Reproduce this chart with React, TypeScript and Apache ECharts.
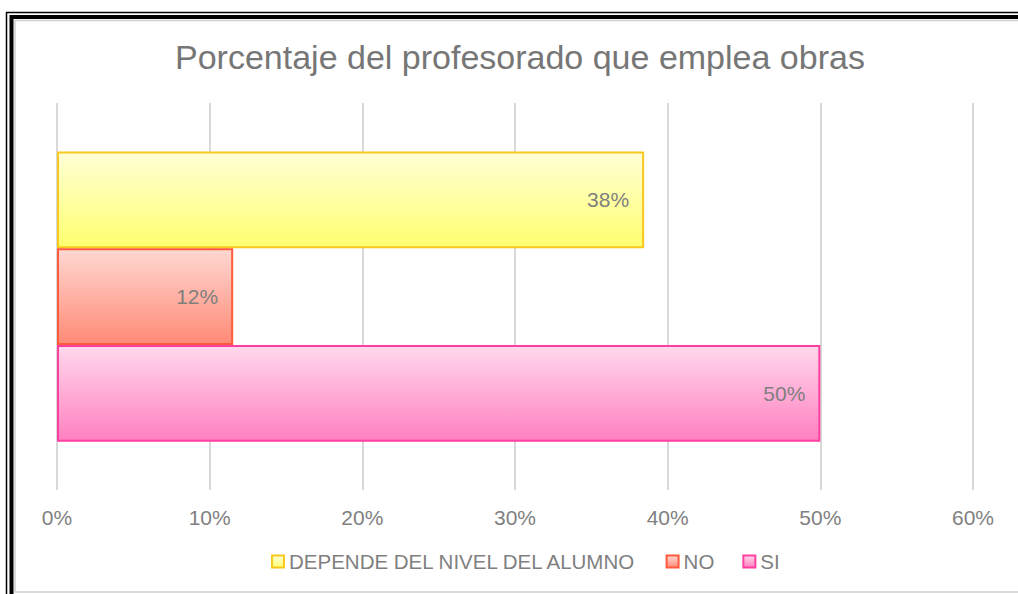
import React, { useEffect, useRef } from "react";
import * as echarts from "echarts";

const titleText = "Porcentaje del profesorado que emplea obras";
const categories = ["Respuesta"];
const seriesNames = ["DEPENDE DEL NIVEL DEL ALUMNO", "NO", "SI"];
const valuesDepende = [38.46];
const valuesNo = [11.54];
const valuesSi = [50];
const xTicks = [0, 10, 20, 30, 40, 50, 60];

const grad = (top: string, bottom: string) =>
  new echarts.graphic.LinearGradient(0, 0, 0, 1, [
    { offset: 0, color: top },
    { offset: 1, color: bottom },
  ]);

export default function App() {
  const ref = useRef<HTMLDivElement>(null);
  useEffect(() => {
    if (!ref.current) return;
    const chart = echarts.init(ref.current, undefined, { renderer: "svg" });
    const font = "'Liberation Sans', Arial, Helvetica, sans-serif";
    const styles = [
      { fill: grad("#ffffd6", "#ffff70"), border: "#f7c81e" },
      { fill: grad("#ffd8d2", "#ff8a76"), border: "#ff5a3c" },
      { fill: grad("#ffd8ec", "#ff80c0"), border: "#ff3fa0" },
    ];
    const data = [valuesDepende, valuesNo, valuesSi];
    chart.setOption({
      animation: false,
      backgroundColor: "#ffffff",
      textStyle: { fontFamily: font },
      title: {
        text: titleText,
        left: 170,
        top: 35,
        textStyle: { fontSize: 34, fontWeight: "normal", color: "#767676", fontFamily: font },
      },
      legend: {
        data: seriesNames,
        bottom: 17,
        left: 266,
        itemWidth: 12,
        itemHeight: 12,
        itemGap: 28,
        icon: "rect",
        textStyle: { fontSize: 20.5, color: "#7f7f7f", fontFamily: font },
      },
      grid: { left: 57, right: 45, top: 103, bottom: 104, containLabel: false },
      xAxis: {
        type: "value",
        min: xTicks[0],
        max: xTicks[xTicks.length - 1],
        interval: 10,
        axisLine: { show: false },
        axisTick: { show: false },
        splitLine: { lineStyle: { color: "#d9d9d9", width: 2 } },
        axisLabel: {
          formatter: (v: number) => v + "%",
          fontSize: 21,
          color: "#7f7f7f",
          margin: 17,
          fontFamily: font,
        },
      },
      yAxis: {
        type: "category",
        data: categories,
        inverse: true,
        axisLine: { show: false },
        axisTick: { show: false },
        axisLabel: { show: false },
      },
      series: seriesNames.map((name, i) => ({
        name,
        type: "bar",
        data: data[i],
        barGap: "0%",
        barCategoryGap: "25%",
        itemStyle: { color: styles[i].fill, borderColor: styles[i].border, borderWidth: 2 },
        label: {
          show: true,
          position: "insideRight",
          distance: 15,
          formatter: (p: any) => Math.round(p.value) + "%",
          fontSize: 21,
          color: "#7f7f7f",
          fontFamily: font,
        },
      })),
      graphic: [
        { type: "rect", silent: true, shape: { x: 6.5, y: 12.5, width: 1200, height: 700 }, style: { fill: "none", stroke: "#000", lineWidth: 1.5 } },
        { type: "rect", silent: true, shape: { x: 11.5, y: 17, width: 1200, height: 700 }, style: { fill: "none", stroke: "#000", lineWidth: 4 } },
        { type: "rect", silent: true, shape: { x: 15, y: 20.5, width: 1200, height: 571.5 }, style: { fill: "none", stroke: "#cfcfcf", lineWidth: 1.5 } },
      ],
    });
    return () => chart.dispose();
  }, []);
  return <div ref={ref} style={{ position: "fixed", left: 0, top: 0, width: 1018, height: 594 }} />;
}
